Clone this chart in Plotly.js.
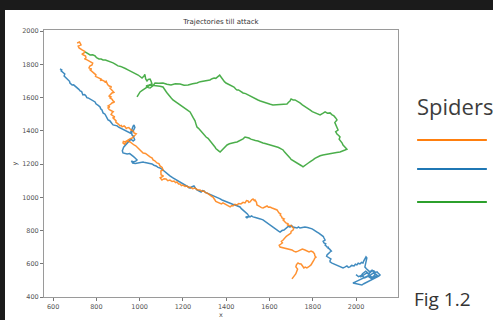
<!DOCTYPE html>
<html>
<head>
<meta charset="utf-8">
<script src="https://cdn.plot.ly/plotly-3.0.1.min.js"></script>
<style>
html,body{margin:0;padding:0;width:493px;height:320px;overflow:hidden;background:#1b1b1b;}
#chart{position:absolute;left:5px;top:10px;width:488px;height:310px;background:#fff;}
</style>
</head>
<body>
<div id="chart"></div>
<script>
// Trajectory data (x, y)
const orangeX = [711,722,729,716,720,731,734,746,743,733,738,750,752,745,757,766,771,783,780,770,766,778,771,780,785,793,798,796,803,815,822,818,826,836,840,845,849,852,859,870,863,869,877,881,872,866,859,868,863,873,877,884,872,866,854,862,854,860,868,878,872,868,877,885,877,884,891,890,896,904,909,915,919,928,933,938,942,950,956,961,965,972,974,984,979,972,965,955,946,940,933,925,923,930,942,956,962,974,982,988,994,1002,1011,1016,1027,1034,1040,1048,1058,1062,1070,1080,1089,1094,1104,1108,1098,1099,1110,1095,1103,1113,1122,1130,1140,1150,1159,1166,1173,1180,1187,1193,1200,1210,1219,1226,1233,1245,1256,1266,1279,1288,1297,1304,1311,1318,1325,1334,1339,1343,1348,1352,1358,1366,1371,1378,1385,1395,1404,1410,1418,1425,1431,1440,1450,1458,1468,1478,1487,1494,1501,1505,1510,1518,1524,1530,1533,1540,1542,1550,1556,1563,1570,1580,1589,1595,1602,1612,1621,1628,1635,1640,1644,1652,1649,1656,1658,1668,1663,1670,1676,1688,1681,1690,1695,1700,1704,1712,1709,1700,1699,1690,1686,1678,1672,1668,1663,1655,1660,1653,1645,1649,1658,1667,1676,1686,1694,1704,1712,1722,1732,1741,1752,1764,1772,1783,1792,1801,1808,1810,1815,1810,1805,1801,1798,1792,1782,1773,1765,1759,1752,1746,1738,1732,1725,1722,1730,1727,1722,1718,1712,1704];
const orangeY = [1929,1935,1917,1910,1899,1893,1887,1878,1869,1862,1857,1850,1839,1833,1827,1822,1815,1808,1797,1790,1779,1773,1767,1758,1749,1745,1737,1728,1724,1720,1712,1703,1706,1700,1694,1699,1688,1678,1670,1665,1658,1648,1640,1632,1628,1619,1610,1604,1598,1590,1580,1574,1568,1560,1550,1544,1538,1528,1520,1515,1508,1498,1490,1484,1478,1468,1460,1452,1448,1438,1430,1433,1424,1430,1424,1414,1418,1420,1412,1403,1405,1396,1387,1382,1375,1366,1357,1352,1345,1340,1333,1336,1327,1320,1339,1333,1325,1315,1310,1303,1292,1285,1278,1267,1264,1255,1248,1243,1236,1225,1220,1207,1203,1189,1180,1165,1158,1135,1128,1118,1104,1112,1110,1100,1104,1095,1098,1088,1092,1080,1080,1070,1074,1066,1068,1058,1062,1052,1056,1046,1044,1036,1038,1028,1026,1018,1014,1005,1002,990,984,975,972,970,966,960,966,958,954,945,942,950,948,958,954,962,960,970,966,980,978,970,972,985,990,980,984,970,954,948,942,938,936,944,948,940,942,936,930,928,924,914,906,900,894,884,876,870,864,855,846,840,834,830,828,830,822,812,803,795,785,780,773,765,755,748,743,735,726,719,712,701,698,695,692,689,690,683,676,671,676,683,688,683,676,671,676,671,660,647,640,635,622,611,600,593,582,575,580,575,588,599,600,605,595,581,568,551,540,533,522,509];

const blueX = [632,640,637,644,646,654,651,658,660,667,669,676,678,684,688,695,702,706,711,719,725,732,738,746,752,756,762,770,775,786,794,798,803,810,817,820,826,828,831,840,845,848,854,862,868,872,877,888,896,903,909,918,928,935,942,950,956,962,965,970,974,978,970,962,965,972,974,977,970,962,956,948,942,936,933,926,923,920,923,932,942,954,965,972,979,984,988,982,970,962,968,980,993,1004,1016,1025,1034,1045,1057,1066,1076,1085,1094,1106,1117,1128,1140,1152,1163,1175,1187,1198,1210,1222,1233,1240,1251,1258,1265,1275,1284,1290,1297,1304,1311,1322,1334,1346,1358,1370,1381,1393,1404,1410,1418,1430,1441,1452,1464,1470,1478,1486,1492,1498,1501,1506,1496,1490,1503,1510,1517,1524,1535,1547,1558,1570,1582,1593,1604,1616,1625,1635,1642,1649,1658,1667,1675,1681,1688,1695,1702,1709,1718,1727,1734,1741,1752,1764,1776,1787,1797,1806,1812,1820,1828,1834,1838,1843,1849,1852,1856,1857,1848,1852,1860,1857,1862,1866,1874,1870,1878,1884,1886,1880,1872,1866,1864,1870,1878,1884,1880,1880,1889,1898,1905,1912,1918,1926,1934,1940,1948,1958,1965,1972,1980,1991,1997,2004,2010,2018,2026,2032,2036,2041,2046,2050,2048,2046,2044,2041,2048,2055,2060,2064,2073,2083,2090,2097,2102,2106,2110,2111,2105,2097,2088,2078,2070,2064,2055,2046,2036,2027,2018,2009,1998,1986,1995,2004,2015,2027,2036,2046,2060,2075,2090,2080,2065,2050,2035,2020,2030,2045,2060,2075,2090,2100,2085,2070,2055,2040,2025,2012,2000];
const blueY = [1773,1767,1761,1752,1749,1742,1730,1722,1718,1714,1706,1698,1688,1680,1676,1677,1670,1661,1658,1650,1640,1636,1616,1618,1610,1600,1598,1592,1586,1580,1574,1563,1556,1552,1544,1533,1526,1516,1508,1500,1490,1478,1466,1461,1454,1444,1436,1434,1430,1422,1418,1410,1405,1398,1393,1390,1387,1400,1417,1428,1435,1420,1399,1390,1375,1366,1357,1346,1339,1348,1345,1334,1327,1320,1315,1302,1291,1280,1267,1262,1261,1263,1255,1245,1237,1230,1225,1218,1213,1220,1206,1204,1207,1214,1213,1209,1207,1203,1201,1193,1189,1180,1177,1166,1153,1140,1129,1118,1110,1101,1092,1082,1074,1063,1056,1062,1068,1055,1044,1038,1032,1040,1038,1030,1026,1020,1014,1010,1002,992,984,977,972,966,966,958,954,948,942,932,924,916,906,900,894,886,876,882,884,882,888,882,878,876,870,864,852,840,830,821,812,803,796,791,800,803,812,815,826,821,830,821,818,815,822,815,818,821,818,815,810,803,796,791,784,779,776,773,764,755,750,743,735,725,720,713,707,701,700,695,688,683,676,671,662,653,645,641,636,629,620,611,604,599,596,593,585,581,578,575,580,587,578,581,590,587,597,593,603,599,608,605,618,629,642,635,620,605,592,581,570,563,556,551,560,557,548,551,544,539,536,533,526,521,512,508,505,502,496,490,480,472,474,478,480,484,490,496,500,508,515,521,530,518,535,545,530,545,530,520,540,555,540,560,540,528,520,512,525,515,530,522,535];

const greenX = [748,758,771,783,794,801,812,822,831,842,854,866,877,889,900,912,923,934,946,958,970,982,993,1002,1011,1020,1024,1028,1034,1040,1048,1053,1057,1044,1030,1040,1048,1062,1071,1088,1108,1126,1145,1165,1187,1205,1224,1245,1265,1280,1297,1310,1325,1335,1344,1352,1362,1370,1376,1380,1385,1392,1399,1408,1418,1428,1436,1444,1450,1457,1464,1470,1478,1490,1501,1512,1524,1536,1547,1558,1570,1582,1593,1604,1616,1632,1649,1665,1681,1688,1695,1700,1709,1718,1727,1735,1741,1752,1764,1776,1787,1798,1810,1822,1834,1846,1857,1868,1880,1888,1898,1906,1912,1902,1907,1913,1917,1906,1912,1920,1926,1922,1930,1936,1940,1948,1953,1958,1949,1938,1926,1910,1894,1882,1870,1858,1847,1834,1820,1810,1801,1795,1787,1778,1769,1762,1755,1748,1741,1733,1727,1718,1709,1700,1695,1686,1676,1670,1663,1655,1649,1642,1635,1620,1603,1596,1589,1580,1570,1558,1547,1535,1524,1514,1505,1496,1487,1478,1468,1459,1450,1438,1427,1415,1404,1394,1385,1378,1372,1365,1358,1352,1348,1340,1334,1330,1325,1316,1307,1300,1293,1286,1279,1272,1265,1260,1256,1248,1242,1238,1233,1226,1219,1210,1200,1193,1187,1180,1173,1163,1154,1146,1140,1133,1127,1122,1117,1112,1108,1094,1080,1064,1048,1036,1025,1012,1002,997,993,990,988];
const greenY = [1875,1868,1857,1858,1851,1840,1833,1832,1827,1826,1821,1812,1809,1800,1791,1788,1779,1775,1767,1760,1749,1744,1736,1727,1718,1730,1740,1712,1700,1710,1712,1698,1682,1676,1670,1660,1658,1672,1688,1686,1688,1680,1676,1684,1682,1675,1676,1684,1688,1696,1700,1700,1706,1714,1718,1716,1724,1735,1724,1716,1706,1696,1688,1682,1676,1670,1664,1652,1646,1646,1640,1632,1628,1624,1616,1612,1604,1594,1586,1580,1574,1568,1562,1560,1556,1558,1556,1560,1562,1572,1580,1592,1586,1586,1580,1575,1568,1556,1544,1536,1526,1516,1508,1500,1496,1505,1514,1506,1508,1498,1490,1478,1466,1450,1435,1420,1405,1395,1381,1372,1363,1350,1339,1326,1315,1306,1297,1290,1285,1279,1273,1270,1267,1262,1261,1258,1255,1250,1243,1234,1225,1218,1213,1205,1195,1188,1183,1190,1195,1200,1207,1212,1219,1228,1237,1248,1261,1272,1285,1292,1297,1300,1303,1310,1315,1318,1321,1324,1327,1334,1339,1342,1345,1350,1357,1360,1363,1352,1345,1340,1333,1330,1327,1322,1315,1302,1291,1282,1273,1280,1285,1294,1303,1316,1327,1336,1345,1355,1363,1375,1387,1396,1405,1415,1423,1442,1460,1478,1496,1506,1514,1520,1526,1536,1544,1550,1556,1562,1568,1577,1586,1598,1610,1620,1628,1637,1646,1655,1664,1668,1670,1672,1676,1664,1652,1643,1634,1625,1616,1610,1604];

const xTicks = [600,800,1000,1200,1400,1600,1800,2000];
const yTicks = [400,600,800,1000,1200,1400,1600,1800,2000];

const seriesNames = ['Spider 1','Spider 2','Spider 3'];
const colors = ['#ff7f0e','#1f77b4','#2ca02c'];

const mk = (x, y, c, n) => ({x: x, y: y, type: 'scatter', mode: 'lines', name: n,
  line: {color: c, width: 1.5}, opacity: 0.85, showlegend: false, hoverinfo: 'skip'});

const data = [
  mk(blueX, blueY, colors[1], seriesNames[1]),
  mk(orangeX, orangeY, colors[0], seriesNames[0]),
  mk(greenX, greenY, colors[2], seriesNames[2])
];

const tickFont = {family: 'DejaVu Sans', size: 6.5, color: '#555'};

const legendLine = (yp, c) => ({type: 'line', xref: 'paper', yref: 'paper',
  x0: 1.054, x1: 1.251, y0: yp, y1: yp, line: {color: c, width: 2}});

const layout = {
  width: 488, height: 310,
  margin: {l: 39, r: 95, t: 20, b: 23},
  paper_bgcolor: '#ffffff', plot_bgcolor: '#ffffff',
  title: {text: 'Trajectories till attack', x: 0.5, xref: 'paper', y: 0.962, yanchor: 'middle',
    font: {family: 'DejaVu Sans', size: 7, color: '#333'}},
  xaxis: {range: [558, 2194], tickvals: xTicks, ticktext: xTicks.map(String), showgrid: false, zeroline: false,
    showline: true, mirror: true, linecolor: '#9a9a9a', linewidth: 1,
    ticks: 'outside', ticklen: 3, tickcolor: '#777', tickfont: tickFont,
    title: {text: 'x', font: {family: 'DejaVu Sans', size: 6.5, color: '#444'}, standoff: 2}},
  yaxis: {range: [400, 2007], tickvals: yTicks, ticktext: yTicks.map(String), showgrid: false, zeroline: false,
    showline: true, mirror: true, linecolor: '#9a9a9a', linewidth: 1,
    ticks: 'outside', ticklen: 3, tickcolor: '#777', tickfont: tickFont,
    title: {text: 'y', font: {family: 'DejaVu Sans', size: 6.5, color: '#444'}, standoff: 3}},
  shapes: [legendLine(0.588, colors[0]), legendLine(0.479, colors[1]), legendLine(0.356, colors[2])],
  annotations: [
    {text: 'Spiders', xref: 'paper', yref: 'paper', x: 1.048, y: 0.715, showarrow: false,
      xanchor: 'left', yanchor: 'middle', font: {family: 'Open Sans', size: 22, color: '#3d3d3d'}},
    {text: 'Fig 1.2', xref: 'paper', yref: 'paper', x: 1.040, y: -0.008, showarrow: false,
      xanchor: 'left', yanchor: 'middle', font: {family: 'Open Sans', size: 19, color: '#333'}}
  ]
};

Plotly.newPlot('chart', data, layout, {displayModeBar: false, staticPlot: true});
</script>
</body>
</html>
